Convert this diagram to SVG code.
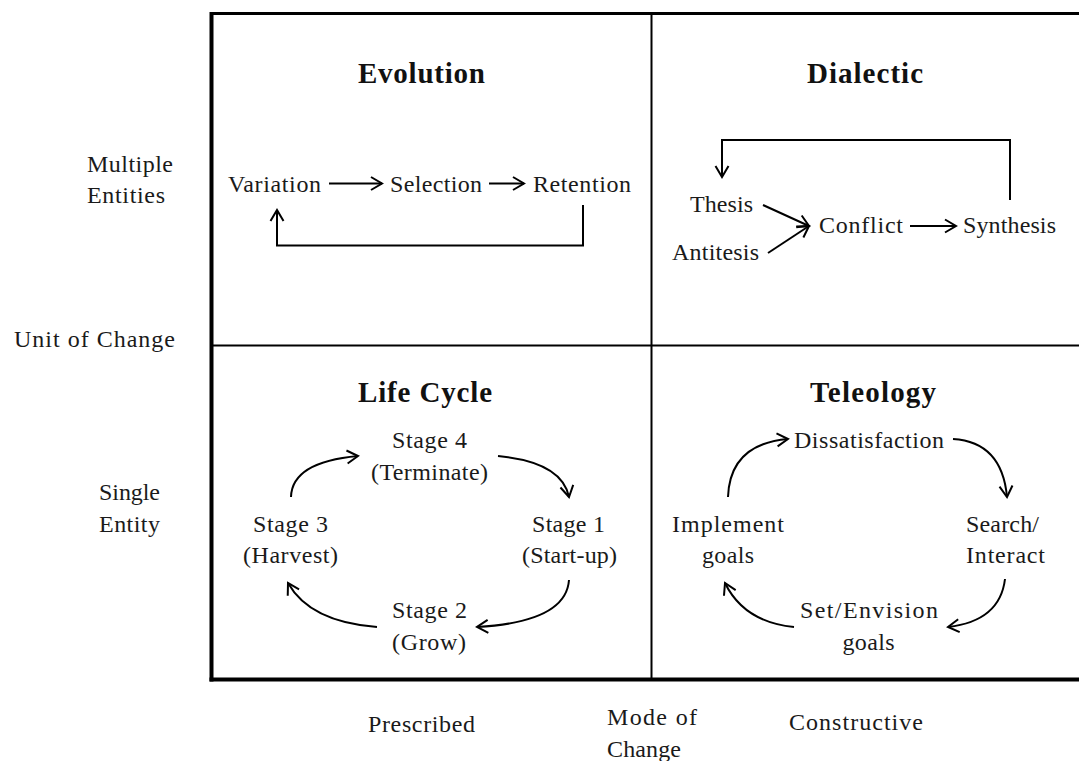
<svg xmlns="http://www.w3.org/2000/svg" width="1079" height="761" viewBox="0 0 1079 761">
<style>
text{font-family:"Liberation Serif","Times New Roman",serif;fill:#1a1a1a;font-size:24px}
.t{font-weight:bold;font-size:29px;text-anchor:middle;fill:#111}
.c{text-anchor:middle}
.frame{stroke:#000;fill:none}
.con{stroke:#000;stroke-width:2;fill:none;marker-end:url(#a)}
</style>
<defs>
<marker id="a" markerWidth="16" markerHeight="16" refX="13" refY="8" orient="auto" markerUnits="userSpaceOnUse">
<path d="M2,1.5 L13,8 L2,14.5" fill="none" stroke="#000" stroke-width="2"/>
</marker>
</defs>
<rect width="1079" height="761" fill="#fff"/>
<g id="frame">
<line class="frame" x1="210" y1="13.5" x2="1079" y2="13.5" stroke-width="3"/>
<line class="frame" x1="211.5" y1="12" x2="211.5" y2="681.5" stroke-width="4"/>
<line class="frame" x1="209.5" y1="679.5" x2="1079" y2="679.5" stroke-width="4"/>
<line class="frame" x1="651.5" y1="13" x2="651.5" y2="678" stroke-width="2"/>
<line class="frame" x1="212" y1="345.5" x2="1079" y2="345.5" stroke-width="2"/>
</g>
<g id="axis-labels">
<text x="87" y="172" textLength="86">Multiple</text>
<text x="87" y="203" textLength="78">Entities</text>
<text x="14" y="347" textLength="161">Unit of Change</text>
<text x="99" y="500" textLength="61">Single</text>
<text x="99" y="532" textLength="61">Entity</text>
<text x="368" y="732" textLength="107">Prescribed</text>
<text x="607" y="725" textLength="90">Mode of</text>
<text x="607" y="757" textLength="74">Change</text>
<text x="789" y="730" textLength="134">Constructive</text>
</g>
<g id="evolution">
<text class="t" x="421.5" y="83" textLength="127">Evolution</text>
<text x="228" y="192" textLength="93">Variation</text>
<text x="390" y="192" textLength="92">Selection</text>
<text x="533" y="192" textLength="98">Retention</text>
</g>
<g id="dialectic">
<text class="t" x="865" y="83" textLength="116">Dialectic</text>
<text x="690" y="212" textLength="63">Thesis</text>
<text x="672" y="260" textLength="87">Antitesis</text>
<text x="819" y="233" textLength="84">Conflict</text>
<text x="963" y="233" textLength="93">Synthesis</text>
</g>
<g id="life-cycle">
<text class="t" x="425" y="402" textLength="134">Life Cycle</text>
<text class="c" x="429.5" y="448" textLength="75">Stage 4</text>
<text class="c" x="429.5" y="480" textLength="117">(Terminate)</text>
<text class="c" x="290.5" y="532" textLength="75">Stage 3</text>
<text class="c" x="290.5" y="563" textLength="95">(Harvest)</text>
<text class="c" x="568.5" y="532" textLength="73">Stage 1</text>
<text class="c" x="569.5" y="563" textLength="95">(Start-up)</text>
<text class="c" x="429.5" y="618" textLength="75">Stage 2</text>
<text class="c" x="429" y="650" textLength="74">(Grow)</text>
</g>
<g id="teleology">
<text class="t" x="873" y="402" textLength="126">Teleology</text>
<text class="c" x="869" y="448" textLength="150">Dissatisfaction</text>
<text class="c" x="728" y="532" textLength="112">Implement</text>
<text class="c" x="728" y="563" textLength="52">goals</text>
<text class="c" x="1002.5" y="532" textLength="73">Search/</text>
<text class="c" x="1005.5" y="563" textLength="79">Interact</text>
<text class="c" x="869" y="618" textLength="138">Set/Envision</text>
<text class="c" x="868.5" y="650" textLength="52">goals</text>
</g>
<g id="connectors">
<line class="con" x1="329" y1="183.5" x2="382" y2="183.5"/>
<line class="con" x1="489" y1="183.5" x2="524" y2="183.5"/>
<path class="con" d="M583,205 V245.5 H277 V210"/>
<path class="con" d="M1010,200 V140 H722 V177"/>
<line class="con" x1="763" y1="205" x2="809" y2="226"/>
<line class="con" x1="768" y1="253" x2="809" y2="226"/>
<line class="con" x1="910" y1="226" x2="956" y2="226"/>
<path class="con" d="M291,497 Q292,462 358,456"/>
<path class="con" d="M498,456 Q562,462 569,497"/>
<path class="con" d="M569,580 Q566,622 477,627"/>
<path class="con" d="M377,627 Q310,622 288,583"/>
<path class="con" d="M728,497 Q730,444 788,439"/>
<path class="con" d="M953,439 Q1002,442 1007,497"/>
<path class="con" d="M1005,579 Q1000,621 948,627"/>
<path class="con" d="M794,627 Q744,622 725,583"/>
</g>
</svg>
